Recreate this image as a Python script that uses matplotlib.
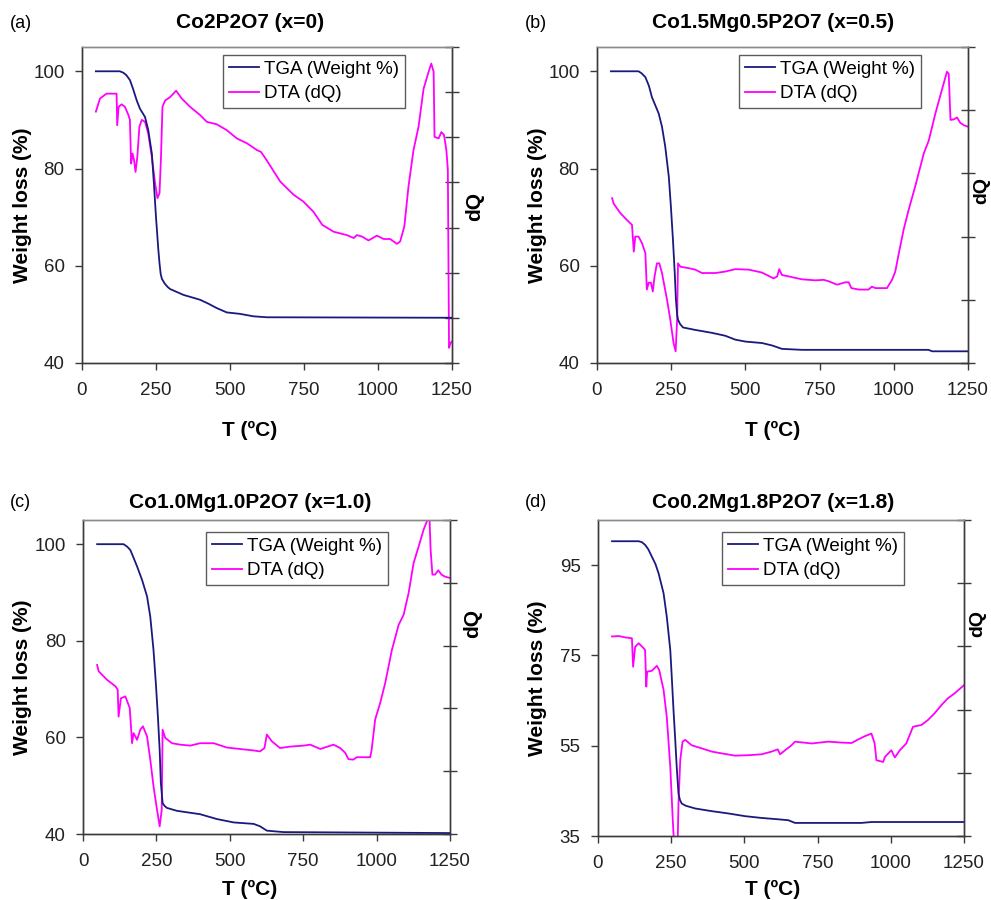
import numpy as np
import matplotlib
matplotlib.use("Agg")
import matplotlib.pyplot as plt

plt.rcParams['font.family'] = ['Liberation Sans', 'DejaVu Sans']

# ---------------- data ----------------
titles = ["Co2P2O7 (x=0)", "Co1.5Mg0.5P2O7 (x=0.5)",
          "Co1.0Mg1.0P2O7 (x=1.0)", "Co0.2Mg1.8P2O7 (x=1.8)"]
panel_labels = ["(a)", "(b)", "(c)", "(d)"]
x_ticks = [0, 250, 500, 750, 1000, 1250]
y_ticks_a = [40, 60, 80, 100]
y_ticks_b = [40, 60, 80, 100]
y_ticks_c = [40, 60, 80, 100]
y_ticks_d = [35, 55, 75, 95]

# (a) Co2P2O7
tga_a_T = [47, 128, 140, 150, 162, 172, 185, 196, 213, 224, 236, 243, 250, 258, 262, 266,
           270, 280, 290, 298, 343, 399, 427, 455, 489, 534, 579, 624, 1250]
tga_a_W = [100, 100, 99.7, 99.2, 98.2, 96.5, 94, 92.3, 90.6, 87.9, 83.1, 77, 70.1, 63.3,
           60.5, 58.3, 57.3, 56.3, 55.6, 55.2, 54, 53, 52.2, 51.3, 50.4, 50.1, 49.6, 49.4,
           49.3]
dta_a_T = [47, 61, 83, 117, 119, 124, 134, 145, 157, 162, 166, 171, 176, 181, 187, 194, 202,
           213, 224, 236, 247, 255, 262, 267, 272, 281, 298, 318, 337, 365, 399, 422, 455,
           489, 523, 557, 591, 605, 624, 670, 715, 748, 782, 812, 850, 895, 918, 929, 946,
           968, 996, 1019, 1041, 1064, 1075, 1089, 1103, 1120, 1137, 1154, 1171, 1180, 1188,
           1191, 1205, 1214, 1223, 1231, 1236, 1240, 1245, 1250]
dta_a_Q = [91.7, 94.4, 95.4, 95.4, 88.9, 92.7, 93.2, 92.7, 91, 90, 81, 83.1, 81.7, 79.3, 82.4,
           88.6, 90, 89.6, 87.2, 82.4, 77, 73.9, 74.9, 82.4, 92.7, 94, 94.7, 96, 94.4, 92.7,
           91, 89.6, 89.1, 87.9, 86.2, 85.2, 83.8, 83.4, 81.7, 77.3, 74.6, 73.2, 71.1, 68.4,
           67, 66.3, 65.7, 66.3, 66, 65.2, 66.2, 65.5, 65.5, 64.5, 65, 68.1, 76.3, 83.8, 88.6,
           96.4, 99.9, 101.6, 99.9, 86.5, 86.2, 87.5, 86.9, 83.8, 79.7, 43.1, 44.1, 44.4]

# (b) Co1.5Mg0.5P2O7
tga_b_T = [47, 140, 150, 163, 175, 185, 208, 219, 230, 242, 249, 256, 262, 266, 270, 273,
           280, 290, 331, 387, 432, 466, 500, 556, 590, 623, 691, 1117, 1129, 1250]
tga_b_W = [100, 100, 99.6, 98.8, 97, 94.7, 91.3, 88.6, 84.5, 78.3, 72.2, 65.3, 58.5, 53, 50,
           48.9, 48, 47.3, 46.8, 46.2, 45.6, 44.8, 44.4, 44.1, 43.6, 42.9, 42.7, 42.7, 42.4,
           42.4]
dta_b_T = [51, 56, 79, 101, 118, 124, 129, 140, 152, 163, 168, 174, 182, 188, 194, 202, 210,
           219, 236, 247, 258, 265, 270, 273, 281, 309, 331, 354, 399, 432, 466, 511, 556,
           595, 607, 614, 623, 646, 691, 736, 764, 781, 809, 837, 848, 857, 882, 915, 926,
           938, 977, 994, 1005, 1017, 1033, 1050, 1072, 1101, 1118, 1140, 1163, 1179, 1185,
           1191, 1202, 1213, 1224, 1236, 1250]
dta_b_Q = [73.9, 72.8, 70.8, 69.4, 68.4, 62.9, 66, 66, 64.6, 62.6, 55.1, 56.5, 56.5, 54.7,
           57.8, 60.5, 60.5, 58.5, 53, 48.9, 44.1, 42.4, 48.9, 60.5, 59.8, 59.5, 59.2, 58.5,
           58.5, 58.8, 59.3, 59.2, 58.6, 57.4, 57.8, 59.3, 58.1, 57.8, 57.2, 57, 57.1, 56.8,
           56.1, 56.6, 56.6, 55.4, 55.1, 55.1, 55.7, 55.4, 55.4, 57.1, 58.8, 62.6, 67.4, 71.5,
           76.3, 83.1, 85.8, 91.3, 96.4, 99.9, 99.5, 90, 90.1, 90.5, 89.4, 88.9, 88.6]

# (c) Co1.0Mg1.0P2O7
tga_c_T = [48, 138, 150, 161, 172, 184, 201, 218, 229, 240, 248, 255, 261, 265, 271, 278,
           286, 320, 399, 456, 513, 581, 603, 626, 683, 1250]
tga_c_W = [100, 100, 99.5, 98.8, 97.2, 95.4, 92.6, 89.2, 85, 78.1, 71.2, 64.3, 57.4, 50.6,
           46.4, 45.8, 45.4, 44.8, 44.1, 43.1, 42.4, 42.1, 41.6, 40.7, 40.4, 40.2]
dta_c_T = [48, 53, 82, 110, 118, 121, 129, 144, 159, 167, 172, 184, 195, 204, 218, 229, 240,
           252, 261, 268, 271, 280, 303, 331, 365, 399, 445, 490, 535, 581, 603, 618, 626,
           643, 671, 706, 751, 774, 808, 853, 876, 893, 904, 921, 932, 978, 983, 995, 1012,
           1029, 1052, 1075, 1092, 1109, 1126, 1143, 1160, 1171, 1180, 1184, 1190, 1199,
           1210, 1221, 1232, 1250]
dta_c_Q = [75, 73.7, 71.9, 70.6, 69.9, 64.3, 68.1, 68.5, 66.1, 58.8, 60.9, 59.5, 61.6, 62.3,
           60.2, 55.4, 49.9, 45, 41.6, 45, 61.6, 59.9, 58.8, 58.5, 58.3, 58.8, 58.8, 57.9,
           57.6, 57.3, 57.1, 57.8, 60.6, 59.2, 57.8, 58.1, 58.3, 58.5, 57.6, 58.5, 57.8, 56.8,
           55.5, 55.4, 55.9, 55.9, 57.4, 63.7, 67.1, 71.2, 78.1, 83.3, 85.4, 89.9, 96.1, 99.5,
           103, 104.7, 105.6, 98.8, 93.7, 93.7, 94.6, 93.7, 93.3, 93]

# (d) Co0.2Mg1.8P2O7
tga_d_T = [48, 139, 150, 161, 172, 184, 196, 207, 224, 235, 247, 252, 258, 264, 269, 275,
           280, 286, 300, 332, 389, 445, 502, 559, 616, 650, 673, 900, 934, 1250]
tga_d_W = [100.3, 100.3, 100.1, 99.5, 98.5, 96.9, 95.3, 93.2, 88.8, 83.6, 76.2, 70.3, 62.9,
           56.2, 50.3, 44.4, 43, 42.2, 41.7, 41.1, 40.5, 40, 39.4, 39, 38.7, 38.5, 37.9, 37.9,
           38.1, 38.1]
dta_d_T = [48, 70, 93, 116, 120, 127, 139, 156, 161, 165, 168, 184, 201, 209, 224, 235, 247,
           255, 260, 272, 275, 281, 289, 298, 320, 355, 389, 423, 468, 514, 559, 593, 614,
           622, 639, 661, 673, 730, 786, 832, 866, 889, 911, 934, 945, 951, 974, 980, 1002,
           1014, 1031, 1053, 1076, 1105, 1127, 1150, 1173, 1195, 1218, 1250]
dta_d_Q = [79.2, 79.3, 79, 78.8, 72.5, 76.9, 77.7, 76.6, 76.2, 68.1, 71.4, 71.6, 72.7, 71.8,
           67.4, 61.4, 50.3, 39.2, 33, 33, 42.2, 51.8, 55.9, 56.3, 55.1, 54.4, 53.7, 53.3,
           52.8, 52.9, 53.1, 53.7, 54.2, 53.1, 54, 55.1, 55.9, 55.5, 55.9, 55.7, 55.6, 56.4,
           57.1, 57.7, 55.5, 51.8, 51.4, 52.5, 54, 52.4, 54, 55.5, 59.2, 59.6, 60.7, 62.2, 64,
           65.5, 66.6, 68.4]

# ---------------- drawing ----------------
TGA_COLOR = "#1a1a7e"
DTA_COLOR = "#ff00ff"
SPINE = "#3a3a3a"

fig = plt.figure(figsize=(9.91, 9.0), dpi=100)

panels = [
    dict(rect=[0.0827, 0.5967, 0.3734, 0.3511], ylim=(40, 105), yt=y_ticks_a, nright=8,
         tga=(tga_a_T, tga_a_W), dta=(dta_a_T, dta_a_Q), leg=(0.873, 0.975),
         xl=(0.454, -0.184), yl=-0.135, dq=(1.035, 0.494), dqs=15,
         title_xy=(250, 23), lab_xy=(10, 23)),
    dict(rect=[0.6024, 0.5967, 0.3744, 0.3511], ylim=(40, 105), yt=y_ticks_b, nright=6,
         tga=(tga_b_T, tga_b_W), dta=(dta_b_T, dta_b_Q), leg=(0.873, 0.975),
         xl=(0.474, -0.184), yl=-0.135, dq=(1.0135, 0.545), dqs=14,
         title_xy=(773, 23), lab_xy=(525, 23)),
    dict(rect=[0.0838, 0.0733, 0.3703, 0.3489], ylim=(40, 105), yt=y_ticks_c, nright=6,
         tga=(tga_c_T, tga_c_W), dta=(dta_c_T, dta_c_Q), leg=(0.831, 0.962),
         xl=(0.454, -0.146), yl=-0.139, dq=(1.035, 0.672), dqs=15,
         title_xy=(250, 502), lab_xy=(10, 502)),
    dict(rect=[0.6034, 0.0711, 0.3693, 0.3511], ylim=(35, 105), yt=y_ticks_d, nright=6,
         tga=(tga_d_T, tga_d_W), dta=(dta_d_T, dta_d_Q), leg=(0.836, 0.962),
         xl=(0.478, -0.139), yl=-0.139, dq=(1.0137, 0.674), dqs=14,
         title_xy=(773, 502), lab_xy=(525, 502)),
]

W, H = 991, 900
for i, p in enumerate(panels):
    ax = fig.add_axes(p["rect"])
    ax2 = ax.twinx()
    ax.set_zorder(ax2.get_zorder() + 1)
    ax.patch.set_visible(False)

    l1, = ax.plot(p["tga"][0], p["tga"][1], color=TGA_COLOR, lw=1.3,
                  label="TGA (Weight %)")
    l2, = ax2.plot(p["dta"][0], p["dta"][1], color=DTA_COLOR, lw=1.3,
                   label="DTA (dQ)")
    ax.set_xlim(0, 1250)
    ax.set_ylim(*p["ylim"])
    ax2.set_ylim(*p["ylim"])
    ax.set_xticks(x_ticks)
    ax.set_yticks(p["yt"])
    ax2.set_yticks(np.linspace(p["ylim"][0], p["ylim"][1], p["nright"]))
    ax2.set_yticklabels([])

    for a in (ax, ax2):
        for s in a.spines.values():
            s.set_color(SPINE)
            s.set_linewidth(1.0)
        a.spines["top"].set_color("#8a8a8a")
    ax.tick_params(axis="both", direction="out", length=5, width=1.0, color=SPINE,
                   labelsize=13.5, labelcolor="#222222")
    ax.tick_params(axis="y", pad=7.5)
    ax.tick_params(axis="x", pad=9)
    ax2.tick_params(axis="y", direction="inout", length=10, width=1.0, color=SPINE)

    ax.set_xlabel("T (ºC)", fontsize=15, fontweight="bold")
    ax.xaxis.set_label_coords(*p["xl"])
    ax.set_ylabel("Weight loss (%)", fontsize=15, fontweight="bold")
    ax.yaxis.set_label_coords(p["yl"], 0.5)
    ax2.set_ylabel("dQ", fontsize=p["dqs"], fontweight="bold", rotation=90)
    ax2.yaxis.set_label_coords(*p["dq"])

    leg = ax.legend(handles=[l1, l2], loc="upper right", bbox_to_anchor=p["leg"],
                    fontsize=13.5, frameon=True, fancybox=False, handlelength=1.6,
                    handletextpad=0.3, labelspacing=0.4, borderpad=0.3,
                    borderaxespad=0.0)
    leg.get_frame().set_edgecolor("#333333")
    leg.get_frame().set_linewidth(1.0)

    fig.text(p["title_xy"][0] / W, 1 - p["title_xy"][1] / H, titles[i],
             fontsize=15, fontweight="bold", ha="center", va="center")
    fig.text(p["lab_xy"][0] / W, 1 - p["lab_xy"][1] / H, panel_labels[i],
             fontsize=13, ha="left", va="center")

fig.savefig("out.png", dpi=100)
